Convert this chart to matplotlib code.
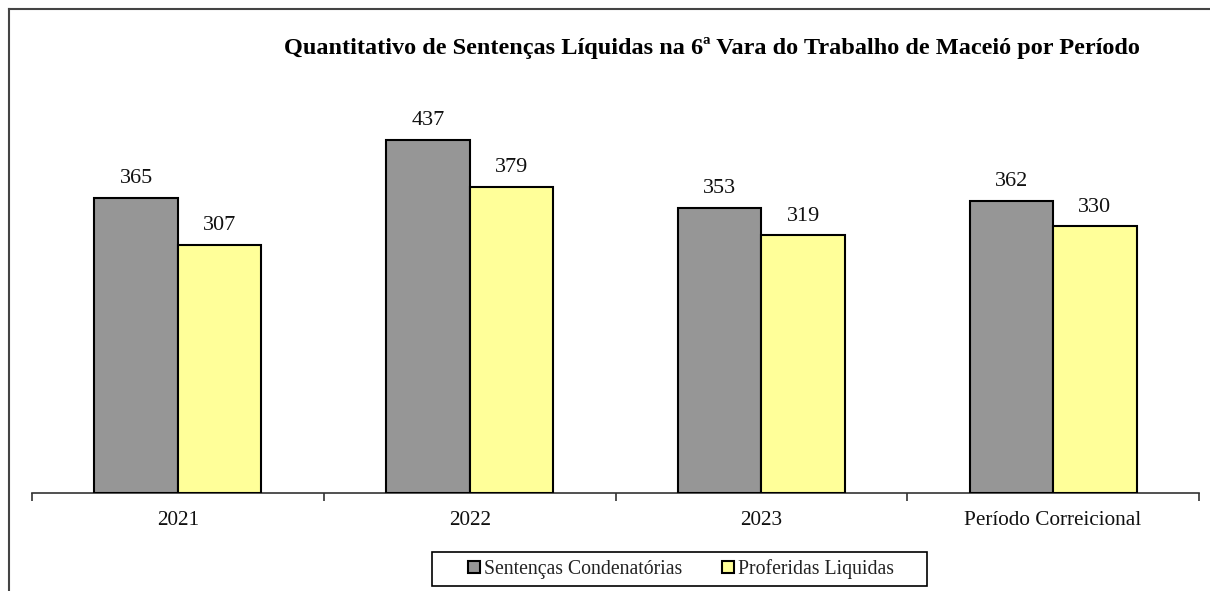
import matplotlib
matplotlib.use("Agg")
import matplotlib.pyplot as plt
from matplotlib.lines import Line2D
from matplotlib.patches import Rectangle
import numpy as np

categories = ["2021", "2022", "2023", "Período Correicional"]
condenatorias = [365, 437, 353, 362]
liquidas = [307, 379, 319, 330]
series_names = ["Sentenças Condenatórias", "Proferidas Liquidas"]
title = "Quantitativo de Sentenças Líquidas na 6ª Vara do Trabalho de Maceió por Período"

W, H = 1210, 591
fig = plt.figure(figsize=(W / 100, H / 100), dpi=100)
plt.rcParams['font.family'] = ['Liberation Serif', 'DejaVu Serif']

ax = fig.add_axes([32 / W, (H - 493) / H, (1199 - 32) / W, (493 - 89) / H])

x = np.arange(len(categories))
bw = 0.286
b1 = ax.bar(x - bw / 2, condenatorias, bw, color="#969696", edgecolor="black", linewidth=1.5,
            label=series_names[0], zorder=3)
b2 = ax.bar(x + bw / 2, liquidas, bw, color="#FFFF99", edgecolor="black", linewidth=1.5,
            label=series_names[1], zorder=3)

for bars in (b1, b2):
    for r in bars:
        ax.annotate(f"{int(r.get_height())}", (r.get_x() + r.get_width() / 2, r.get_height()),
                    xytext=(0, 10.5), textcoords="offset points", ha="center", va="baseline",
                    fontsize=16, color="#111111")

ax.set_xlim(-0.5, len(categories) - 0.5)
ax.set_ylim(0, 500)
ax.set_yticks([])
for s in ("left", "right", "top"):
    ax.spines[s].set_visible(False)
ax.spines["bottom"].set_color("#333333")
ax.spines["bottom"].set_linewidth(1.2)

ax.set_xticks(x)
ax.set_xticklabels(categories, fontsize=15.3, color="#111111")
ax.tick_params(axis="x", which="major", length=0, pad=13)
ax.set_xticks(np.arange(-0.5, len(categories)), minor=True)
ax.tick_params(axis="x", which="minor", length=6, width=1.2, color="#333333", direction="out")

fig.text(712 / W, 1 - 48 / H, title, ha="center", va="center", fontsize=17.5, fontweight="bold")

# legend frame drawn separately (wide horizontal padding as in reference)
fig.add_artist(Rectangle((432 / W, 1 - 586 / H), (927 - 432) / W, (586 - 552) / H,
                         transform=fig.transFigure, fill=False, edgecolor="black", lw=1.2))
leg = fig.legend(loc="center", bbox_to_anchor=(681 / W, 1 - 569 / H), ncol=2,
                 frameon=False, fontsize=14.2,
                 handlelength=0.6, handleheight=0.6, handletextpad=0.2, columnspacing=2.0,
                 borderpad=0.3)
for t in leg.get_texts():
    t.set_color("#222222")

# outer frame (partially visible, left and top edges)
fig.add_artist(Line2D([9 / W, 9 / W], [0, 1 - 9 / H], color="#444444", lw=1.5))
fig.add_artist(Line2D([9 / W, 1], [1 - 9 / H, 1 - 9 / H], color="#444444", lw=1.5))

fig.savefig("out.png", dpi=100)
